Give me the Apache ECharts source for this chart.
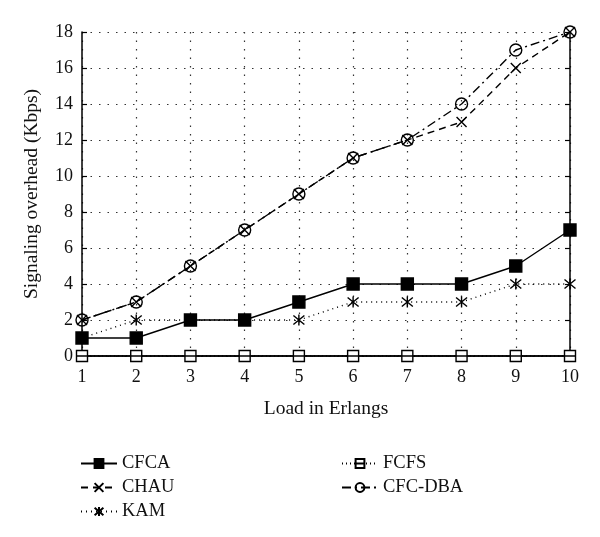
<!DOCTYPE html>
<html><head><meta charset="utf-8">
<script src="https://cdn.jsdelivr.net/npm/echarts@6/dist/echarts.min.js"></script>
<style>html,body{margin:0;padding:0;background:#fff}#c{width:600px;height:537px}</style>
</head><body><div id="c"></div>
<script>
const loads = [1,2,3,4,5,6,7,8,9,10];
const cfca = [1,1,2,2,3,4,4,4,5,7];
const chau = [2,3,5,7,9,11,12,13,16,18];
const kam = [1,2,2,2,2,3,3,3,4,4];
const fcfs = [0,0,0,0,0,0,0,0,0,0];
const cfcdba = [2,3,5,7,9,11,12,14,17,18];
const names = ['CFCA','CHAU','KAM','FCFS','CFC-DBA'];

const F = 'Liberation Serif';
const pairs = a => loads.map((x,i)=>[x,a[i]]);
const crossPath = 'path://M0,0L10,10M10,0L0,10';
const starPath = 'path://M0,0L10,10M10,0L0,10M5,-1L5,11';
const sqPath = 'path://M0,0L10,0L10,10L0,10Z M0,5L10,5';
function mk(name, data, lineType, symbol, size, fill, z){
  return {name, type:'line', data:pairs(data), symbol, symbolSize:size, z,
    lineStyle:{color:'#000', width:1.4, type:lineType},
    itemStyle:{color:fill, borderColor:'#000', borderWidth:1.4},
    emphasis:{disabled:true}, animation:false};
}
const chart = echarts.init(document.getElementById('c'));
const axisCommon = {
  axisLine:{show:true, lineStyle:{color:'#000', width:1.5}},
  axisTick:{show:true, inside:true, length:5, lineStyle:{color:'#000', width:1.2}},
};
chart.setOption({
  animation:false,
  backgroundColor:'#fff',
  textStyle:{fontFamily:F},
  grid:{left:82, right:30, top:32, bottom:181, containLabel:false},
  xAxis:[
    Object.assign({type:'value', min:1, max:10, interval:1, position:'bottom',
      name:'Load in Erlangs', nameLocation:'middle', nameGap:43,
      nameTextStyle:{fontFamily:F, fontSize:19.5, color:'#111'},
      axisLabel:{fontFamily:F, fontSize:18, color:'#111', margin:12},
      splitLine:{show:true, lineStyle:{color:'#333', type:[1.5,7], width:1.2}}}, axisCommon),
    Object.assign({type:'value', min:1, max:10, interval:1, position:'top',
      axisLabel:{show:false}, splitLine:{show:false}}, axisCommon)
  ],
  yAxis:[
    Object.assign({type:'value', min:0, max:18, interval:2, position:'left',
      name:'Signaling overhead (Kbps)', nameLocation:'middle', nameGap:40,
      nameTextStyle:{fontFamily:F, fontSize:19.5, color:'#111'},
      axisLabel:{fontFamily:F, fontSize:18, color:'#111', margin:9},
      splitLine:{show:true, lineStyle:{color:'#333', type:[1.5,7], width:1.2}}}, axisCommon),
    Object.assign({type:'value', min:0, max:18, interval:2, position:'right',
      axisLabel:{show:false}, splitLine:{show:false}}, axisCommon)
  ],
  legend:[
    {data:[names[0],names[1],names[2]], orient:'vertical', left:75, top:449, itemGap:5,
     itemWidth:36, itemHeight:11, textStyle:{fontFamily:F, fontSize:18.5, color:'#111'}},
    {data:[names[3],names[4]], orient:'vertical', left:336, top:449, itemGap:5,
     itemWidth:36, itemHeight:11, textStyle:{fontFamily:F, fontSize:18.5, color:'#111'}}
  ],
  series:[
    mk(names[3], fcfs, [1,3], sqPath, 11, '#fff', 2),
    mk(names[2], kam, [1,4], starPath, 11, '#000', 3),
    mk(names[0], cfca, 'solid', 'rect', 12, '#000', 4),
    mk(names[4], cfcdba, [9,4,2,4], 'circle', 12, 'rgba(255,255,255,0)', 5),
    mk(names[1], chau, [7,5], crossPath, 10, '#000', 6)
  ]
});
</script></body></html>
